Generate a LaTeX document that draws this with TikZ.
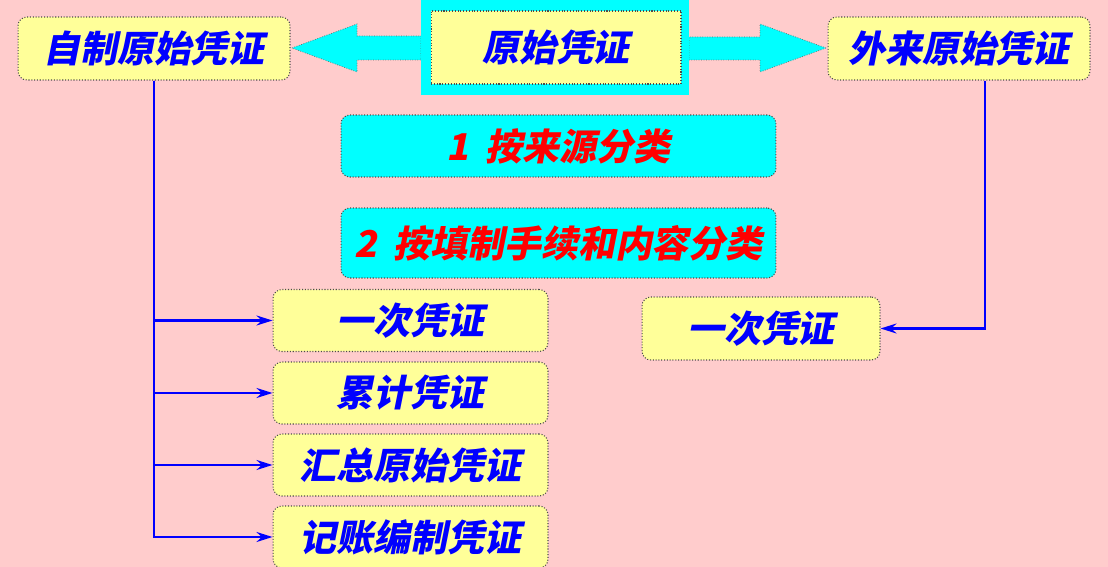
\documentclass[tikz,border=0pt]{standalone}
\usepackage{fontspec}
\newfontfamily\cjk{Noto Sans CJK SC}[FakeSlant=0.2, BoldFeatures={FakeSlant=0.2}]
\usetikzlibrary{arrows.meta}
\definecolor{bgpink}{RGB}{255,204,204}
\definecolor{boxyellow}{RGB}{255,255,153}
\definecolor{boxcyan}{RGB}{0,255,255}

\begin{document}
\begin{tikzpicture}[x=0.02cm, y=-0.02cm]
  % 定义样式
  \tikzset{ybox/.style = {rectangle, rounded corners=5pt, draw=black!70, line width=0.6pt, densely dotted, fill=boxyellow, text=blue, inner sep=0pt, font=\cjk\bfseries\fontsize{21}{21}\selectfont}}
  \tikzset{cbox/.style = {ybox, fill=boxcyan, text=red, minimum width=8.7cm}}
  \tikzset{link/.style = {draw=blue, line width=1.2pt, -{Stealth[length=0.32cm, width=0.2cm]}}}

  % 背景
  \fill[bgpink] (0,0) rectangle (1108,567);
  \useasboundingbox (0,0) rectangle (1108,567);

  % 箭头
  \filldraw[boxcyan, draw=black!60, densely dotted] (292,48) -- (357,24) -- (357,36) -- (421,36) -- (421,60) -- (357,60) -- (357,72) -- cycle;
  \filldraw[boxcyan, draw=black!60, densely dotted] (826,48) -- (760,24) -- (760,37) -- (689,37) -- (689,60) -- (760,60) -- (760,72) -- cycle;

  % 定义点
  \node[fill=boxcyan, minimum width=5.36cm, minimum height=1.9cm] (srcbg) at (555,47.5) {};
  \node[ybox, rounded corners=0pt, minimum width=5.0cm, minimum height=1.46cm] (src) at (556,47.5) {原始凭证};
  \node[ybox, minimum width=5.44cm, minimum height=1.26cm] (zizhi) at (154,48.5) {自制原始凭证};
  \node[ybox, minimum width=5.24cm, minimum height=1.26cm] (wailai) at (959,48.5) {外来原始凭证};

  \node[cbox, minimum height=1.24cm] (c1) at (558.5,146) {1\ \ 按来源分类};
  \node[cbox, minimum height=1.4cm] (c2) at (558.5,243) {2\ \ 按填制手续和内容分类};

  \node[ybox, minimum width=5.5cm, minimum height=1.24cm] (b1) at (410.5,320.5) {一次凭证};
  \node[ybox, minimum width=5.5cm, minimum height=1.24cm] (b2) at (410.5,393) {累计凭证};
  \node[ybox, minimum width=5.5cm, minimum height=1.24cm] (b3) at (410.5,465) {汇总原始凭证};
  \node[ybox, minimum width=5.5cm, minimum height=1.24cm] (b4) at (410.5,537) {记账编制凭证};

  \node[ybox, minimum width=4.76cm, minimum height=1.26cm] (r1) at (761,328.5) {一次凭证};

  % 定义边
  \foreach \b in {b1,b2,b3,b4}
    \draw[link] (zizhi.south) |- (\b.west);
  \draw[link] ([xshift=0.52cm]wailai.south) |- (r1.east);
\end{tikzpicture}
\end{document}
